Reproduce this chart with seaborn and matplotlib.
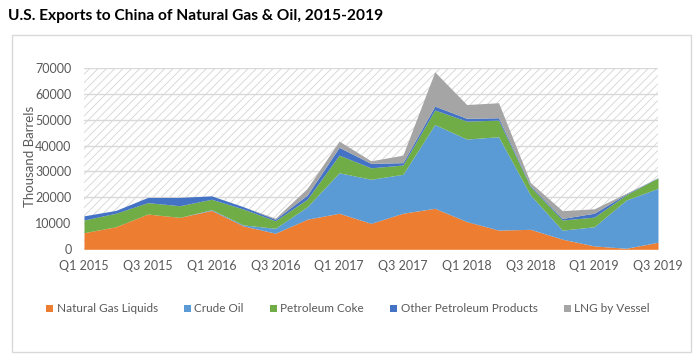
import matplotlib
matplotlib.use('Agg')
import matplotlib.pyplot as plt
from matplotlib.patches import Rectangle
import seaborn as sns

# Dados trimestrais (mil barris)
quarters = ['Q1 2015', 'Q2 2015', 'Q3 2015', 'Q4 2015',
            'Q1 2016', 'Q2 2016', 'Q3 2016', 'Q4 2016',
            'Q1 2017', 'Q2 2017', 'Q3 2017', 'Q4 2017',
            'Q1 2018', 'Q2 2018', 'Q3 2018', 'Q4 2018',
            'Q1 2019', 'Q2 2019', 'Q3 2019']
ngl = [6400, 8700, 13600, 12300, 15000, 9000, 6200, 11600, 13900, 10000,
       13900, 15800, 10700, 7400, 7700, 3900, 1300, 400, 2700]
crude = [0, 0, 0, 0, 300, 400, 1900, 4800, 15600, 17000,
         15000, 32300, 31800, 36000, 13200, 3500, 7400, 18600, 20800]
coke = [4900, 5200, 4400, 4500, 4000, 6100, 2900, 2900, 6800, 4400,
        3600, 5600, 6900, 6400, 3200, 3900, 3700, 2000, 4000]
other = [1600, 1100, 2000, 3200, 1300, 900, 600, 1600, 3000, 1700,
         900, 1500, 1100, 900, 400, 600, 1500, 300, 100]
lng = [0, 0, 0, 0, 0, 0, 400, 2600, 2400, 1000,
       2900, 13200, 5300, 5800, 1200, 3000, 1700, 300, 0]
series_names = ['Natural Gas Liquids', 'Crude Oil', 'Petroleum Coke',
                'Other Petroleum Products', 'LNG by Vessel']

sns.set_theme(style='white')
plt.rcParams['font.family'] = ['Lato', 'DejaVu Sans']
cores = sns.color_palette(['#ED7D31', '#5B9BD5', '#70AD47', '#4472C4', '#A5A5A5'])
cinza = '#595959'

fig = plt.figure(figsize=(6.95, 3.55), dpi=100)
ax = fig.add_axes([84/695, 1-249.3/355, (658-84)/695, (249.3-67.7)/355])

# Moldura do gráfico
fig.patches.append(Rectangle((12/695, 1-352/355), (691-12)/695, (352-35)/355,
                             transform=fig.transFigure, fill=False,
                             edgecolor='#d9d9d9', lw=1))

plt.rcParams['hatch.linewidth'] = 0.6
ax.axhspan(0, 70000, facecolor='none', edgecolor='#d4d4d4', hatch='////', lw=0, zorder=0)
for y in range(10000, 70001, 10000):
    ax.axhline(y, color='#d9d9d9', lw=1, zorder=1)

x = list(range(len(quarters)))
ax.stackplot(x, ngl, crude, coke, other, lng, colors=cores, labels=series_names,
             lw=0, zorder=2)

ax.set_xlim(0, len(quarters) - 1)
ax.set_ylim(0, 70000)
ax.set_yticks(range(0, 70001, 10000))
ax.set_xticks(x[::2])
ax.set_xticklabels(quarters[::2])
ax.tick_params(axis='both', length=0, labelsize=9, labelcolor=cinza)
ax.tick_params(axis='y', pad=9)
ax.tick_params(axis='x', pad=8)
for s in ax.spines.values():
    s.set_visible(False)

fig.text(30/695, 1-156/355, 'Thousand Barrels', rotation=90, ha='center',
         va='center', fontsize=9.5, color=cinza)
fig.text(8/695, 1-16/355, 'U.S. Exports to China of Natural Gas & Oil, 2015-2019',
         fontsize=11.2, fontweight='bold', ha='left', va='center', color='black')

fig.legend(loc='center', bbox_to_anchor=(348/695, 1-309/355), ncol=5, frameon=False,
           fontsize=8.5, labelcolor=cinza, handlelength=0.6, handleheight=0.6,
           handletextpad=0.3, columnspacing=2.2)

plt.savefig('out.png', dpi=100)
